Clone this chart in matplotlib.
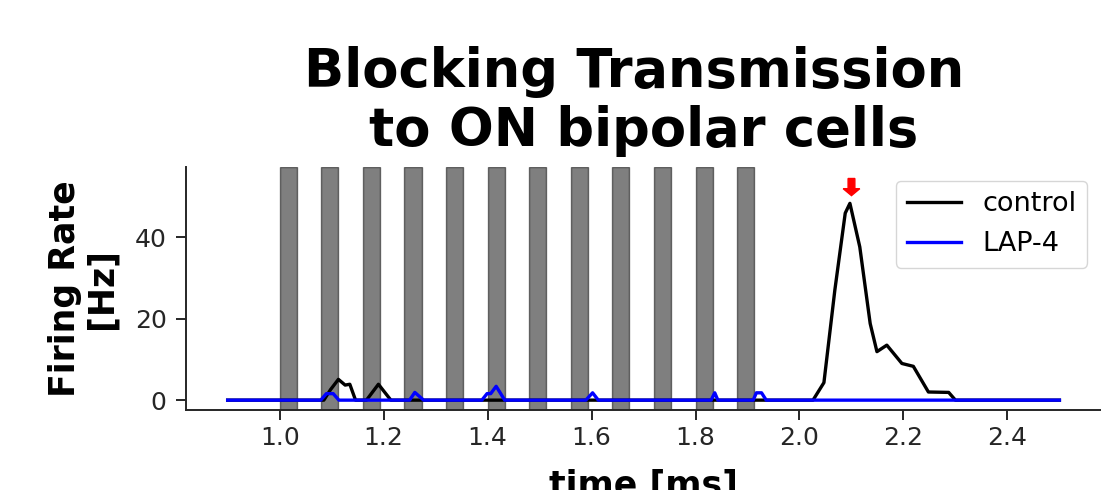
import matplotlib
matplotlib.use('Agg')
import matplotlib.pyplot as plt
import numpy as np

# stimulus pulses (ms)
stim_on = [1.00, 1.08, 1.16, 1.24, 1.32, 1.40, 1.48, 1.56, 1.64, 1.72, 1.80, 1.88]
stim_dur = 0.033

# control firing rate
t_ctrl = [0.90, 1.085, 1.098, 1.113, 1.126, 1.135, 1.146, 1.167, 1.190, 1.214,
          2.026, 2.047, 2.068, 2.088, 2.097, 2.116, 2.136, 2.149, 2.168,
          2.197, 2.219, 2.248, 2.287, 2.300, 2.50]
r_ctrl = [0, 0, 2.6, 5.1, 3.7, 3.9, 0, 0, 3.9, 0,
          0, 4.3, 27.0, 45.9, 48.3, 37.6, 18.8, 11.9, 13.5,
          9.0, 8.3, 2.0, 1.9, 0, 0]

# LAP-4 firing rate
t_lap = [0.90, 1.079, 1.090, 1.103, 1.114, 1.250, 1.260, 1.277,
         1.389, 1.399, 1.406, 1.4165, 1.433, 1.589, 1.602, 1.613,
         1.830, 1.837, 1.843, 1.911, 1.917, 1.927, 1.936, 2.50]
r_lap = [0, 0, 1.6, 1.6, 0, 0, 1.9, 0,
         0, 1.6, 1.6, 3.4, 0, 0, 1.8, 0,
         0, 1.8, 0, 0, 1.8, 1.8, 0, 0]

peak_t = 2.1

plt.rcParams['font.family'] = ['DejaVu Sans']
fig = plt.figure(figsize=(11.01, 4.9), dpi=100)
ax = fig.add_axes([0.169, 0.163, 0.831, 0.496])

for s in stim_on:
    ax.axvspan(s, s + stim_dur, color='k', alpha=0.5, lw=1)

ax.plot(t_ctrl, r_ctrl, color='k', lw=2.4, label='control')
ax.plot(t_lap, r_lap, color='b', lw=2.4, label='LAP-4')
ax.arrow(peak_t, 54.4, 0, -2.5, width=0.013, head_width=0.032,
         head_length=1.7, color='red')

ax.set_xlim(0.82, 2.58)
ax.set_ylim(-2.45, 57.2)
ax.set_xticks(np.arange(1.0, 2.41, 0.2))
ax.set_yticks([0, 20, 40])
ax.spines['top'].set_visible(False)
ax.spines['right'].set_visible(False)
ax.tick_params(labelsize=18, colors='.15', length=7, width=1.4)
ax.tick_params(axis='x', pad=4.5)
ax.tick_params(axis='y', pad=7)
for sp in ['left', 'bottom']:
    ax.spines[sp].set_linewidth(1.4)
    ax.spines[sp].set_color('.15')

ax.set_xlabel('time [ms]', fontsize=25, fontweight='bold', labelpad=13)
ax.set_ylabel('Firing Rate\n[Hz]', fontsize=25, fontweight='bold',
              linespacing=1.08, labelpad=12)
ax.set_title('Blocking Transmission \nto ON bipolar cells', fontsize=38,
             fontweight='bold', linespacing=1.17, pad=15)
ax.legend(loc='upper right', fontsize=19.5)

fig.savefig('out.png', dpi=100)
